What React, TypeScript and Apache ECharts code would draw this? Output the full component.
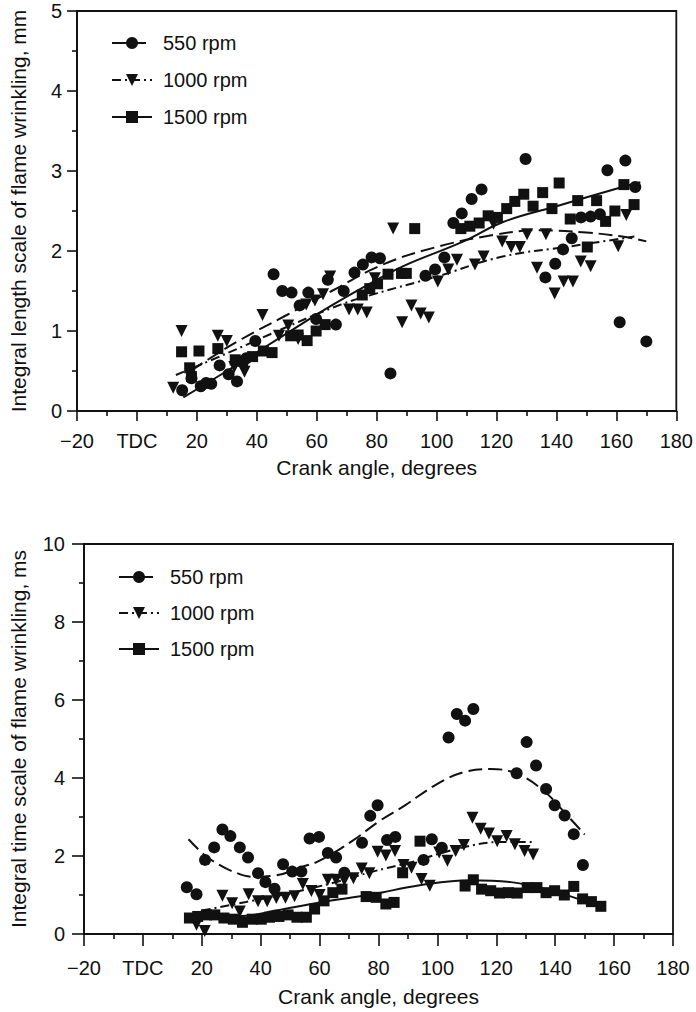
import React, { useEffect, useRef } from "react";
import * as echarts from "echarts";

// ---------- Tick labels ----------
const xTickMin = -20;
const xTickMax = 180;
const xTickStep = 20;

// ---------- Top chart: integral length scale (mm) ----------
const lenPts550: [number, number][] = [
  [15.1, 0.26], [18.2, 0.41], [21.3, 0.31], [23.1, 0.35], [24.8, 0.34], [27.6, 0.57], [30.6, 0.46],
  [33.4, 0.37], [36.5, 0.66], [39.5, 0.875], [45.6, 1.71], [48.5, 1.5], [51.6, 1.48], [54.3, 1.32],
  [57.2, 1.48], [59.8, 1.15], [63.7, 1.64], [66.4, 1.08], [69.0, 1.5], [72.6, 1.73], [75.4, 1.83],
  [78.3, 1.92], [81.1, 1.91], [84.6, 0.47], [96.3, 1.69], [99.5, 1.77], [102.6, 1.92], [105.6, 2.35],
  [108.4, 2.47], [111.7, 2.65], [115.0, 2.77], [129.7, 3.15], [136.3, 1.67], [139.6, 1.84],
  [142.2, 2.02], [145.1, 2.16], [148.2, 2.42], [151.4, 2.43], [154.5, 2.46], [157.0, 3.01],
  [161.1, 1.11], [163.0, 3.13], [166.3, 2.8], [170.0, 0.87],
];
const lenPts1000: [number, number][] = [
  [12.1, 0.29], [14.9, 1.0], [27.0, 0.94], [30.0, 0.875], [32.5, 0.55], [35.9, 0.49], [41.9, 1.2],
  [47.4, 0.94], [50.5, 1.07], [53.8, 0.9], [56.5, 1.33], [59.4, 1.38], [62.1, 1.46], [64.5, 1.68],
  [70.8, 1.27], [73.7, 1.27], [76.7, 1.23], [79.4, 1.66], [85.5, 2.28], [88.5, 1.11], [91.6, 1.32],
  [94.7, 1.22], [97.4, 1.17], [100.4, 1.62], [103.9, 1.77], [106.8, 1.89], [112.8, 1.83],
  [115.7, 1.93], [119.0, 2.34], [121.9, 2.12], [124.9, 2.05], [127.8, 2.05], [130.2, 2.21],
  [133.5, 1.79], [136.5, 2.21], [139.4, 1.47], [142.4, 1.62], [145.5, 1.62], [148.1, 1.87],
  [151.4, 1.81], [160.6, 2.06], [163.3, 2.45],
];
const lenPts1500: [number, number][] = [
  [14.9, 0.74], [17.6, 0.54], [18.2, 0.43], [20.7, 0.75], [27.0, 0.78], [32.8, 0.64], [35.3, 0.62],
  [38.6, 0.68], [42.2, 0.75], [45.1, 0.73], [51.3, 0.94], [53.8, 0.95], [56.8, 0.88], [59.8, 1.0],
  [62.8, 1.08], [75.2, 1.45], [77.7, 1.53], [80.3, 1.59], [83.8, 1.71], [88.3, 1.72], [89.9, 1.72],
  [92.7, 2.28], [108.1, 2.28], [111.1, 2.31], [114.2, 2.35], [117.2, 2.44], [120.3, 2.42],
  [123.4, 2.53], [126.1, 2.62], [129.1, 2.71], [132.2, 2.56], [135.4, 2.73], [138.5, 2.53],
  [140.9, 2.85], [144.6, 2.4], [147.1, 2.63], [150.3, 2.05], [153.4, 2.63], [156.4, 2.37],
  [159.5, 2.5], [162.5, 2.83], [165.9, 2.58],
];
const lenFit550: [number, number][] = [
  [18, 0.5], [24, 0.65], [35, 0.9], [50, 1.2], [65, 1.5], [82, 1.83], [100, 2.05], [119, 2.2],
  [134, 2.26], [150, 2.23], [162, 2.18], [170, 2.12],
];
const lenFit1000: [number, number][] = [
  [13, 0.45], [30, 0.72], [50, 1.05], [68, 1.33], [80, 1.47], [100, 1.68], [122, 1.93], [145, 2.06],
  [166, 2.18],
];
const lenFit1500: [number, number][] = [
  [15.5, 0.17], [30, 0.5], [50, 0.97], [65, 1.32], [82, 1.68], [90, 1.83], [109, 2.12], [122, 2.36],
  [140, 2.56], [162, 2.8], [168, 2.86],
];

// ---------- Bottom chart: integral time scale (ms) ----------
const timePts550: [number, number][] = [
  [14.9, 1.2], [18.2, 1.02], [21.1, 1.9], [24.2, 2.22], [27.0, 2.68], [29.7, 2.51], [32.9, 2.22],
  [35.7, 1.96], [39.1, 1.56], [41.6, 1.33], [44.7, 1.16], [47.6, 1.79], [50.7, 1.6], [53.8, 1.6],
  [56.6, 2.45], [59.8, 2.49], [62.8, 2.08], [65.6, 1.96], [68.4, 1.57], [74.4, 2.34], [77.2, 3.03],
  [79.7, 3.3], [82.9, 2.41], [85.7, 2.49], [95.3, 1.9], [98.1, 2.43], [101.5, 2.21], [103.8, 5.04],
  [106.6, 5.64], [109.4, 5.47], [112.2, 5.77], [126.9, 4.12], [130.3, 4.92], [133.5, 4.32],
  [136.9, 3.72], [139.8, 3.3], [143.2, 3.04], [146.3, 2.56], [149.4, 1.77],
];
const timePts1000: [number, number][] = [
  [18.2, 0.24], [21.0, 0.08], [27.0, 0.98], [30.3, 0.79], [32.9, 0.58], [35.9, 1.02], [39.1, 0.84],
  [42.2, 0.84], [45.3, 0.92], [48.4, 0.93], [51.5, 0.97], [54.3, 1.28], [57.2, 1.1], [60.0, 1.0],
  [62.8, 1.39], [65.6, 1.39], [68.4, 1.38], [71.5, 1.43], [74.3, 1.68], [76.9, 1.56], [79.7, 2.11],
  [82.5, 2.01], [85.6, 2.13], [88.5, 1.77], [91.2, 1.7], [94.6, 1.41], [97.4, 1.24], [100.6, 2.09],
  [103.4, 1.88], [106.2, 2.13], [109.0, 2.28], [111.9, 2.98], [114.7, 2.7], [117.5, 2.58],
  [120.3, 2.38], [123.5, 2.51], [126.3, 2.3], [129.6, 2.13], [132.5, 2.04],
];
const timePts1500: [number, number][] = [
  [15.8, 0.41], [18.6, 0.45], [21.6, 0.49], [24.4, 0.49], [27.5, 0.41], [30.7, 0.38], [33.8, 0.3],
  [37.1, 0.38], [40.2, 0.38], [43.0, 0.43], [46.2, 0.45], [49.3, 0.49], [52.3, 0.43], [55.5, 0.43],
  [58.3, 0.64], [61.5, 0.85], [64.5, 1.06], [67.6, 1.15], [75.8, 0.96], [79.2, 0.94], [82.5, 0.77],
  [85.3, 0.81], [88.2, 1.57], [94.1, 2.38], [109.4, 1.23], [112.2, 1.39], [115.0, 1.15],
  [118.1, 1.11], [121.1, 1.05], [124.1, 1.06], [127.1, 1.05], [130.5, 1.19], [133.8, 1.19],
  [136.9, 1.06], [139.8, 1.11], [143.1, 1.0], [146.3, 1.22], [149.3, 0.9], [152.3, 0.83],
  [155.5, 0.71],
];
const timeFit550: [number, number][] = [
  [15.5, 2.43], [21, 2.02], [26, 1.77], [30, 1.62], [37, 1.47], [45, 1.5], [54, 1.72], [60, 1.88],
  [71, 2.38], [80, 2.88], [89, 3.3], [100, 3.85], [109, 4.15], [118, 4.23], [127, 4.11], [136, 3.68],
  [143, 3.13], [150, 2.55],
];
const timeFit1000: [number, number][] = [
  [20, 0.6], [35, 0.82], [50, 1.05], [65, 1.32], [78, 1.6], [91, 1.84], [107, 2.19], [122, 2.36],
  [133, 2.36],
];
const timeFit1500: [number, number][] = [
  [15, 0.45], [25, 0.45], [34, 0.46], [45, 0.6], [60, 0.81], [78, 1.02], [94, 1.25], [111, 1.38],
  [125, 1.33], [138, 1.13], [147, 0.92], [155, 0.72],
];

const seriesNames = ["550 rpm", "1000 rpm", "1500 rpm"];

const INK = "#111";
const FONT = "Liberation Sans, Arial, Helvetica, sans-serif";
const FS = 20;
const NAME_FS = 21;
const TRI = "path://M0,0L10,0L5,9Z";
const symbols = ["circle", TRI, "rect"];
const symbolSizes = [12, 12, 11];
const lineTypes: any[] = [[14, 6], [9, 4, 2, 4], "solid"];

function xLabel(v: number) {
  if (v === 0) return "TDC";
  if (v < 0) return "\u2212" + Math.abs(v);
  return String(v);
}

function buildOption(cfg: {
  grid: any;
  yMax: number;
  yStep: number;
  yName: string;
  yNameGap: number;
  yLabelMargin: number;
  xLabelMargin: number;
  xNameGap: number;
  majorTick: number;
  legendLeft: number;
  legendTop: number;
  legendGap: number;
  pts: [number, number][][];
  fits: [number, number][][];
}) {
  const axisCommon = {
    axisLine: { show: true, onZero: false, lineStyle: { color: INK, width: 1.8 } },
    axisTick: { show: true, inside: false, length: cfg.majorTick, lineStyle: { color: INK, width: 1.6 } },
    minorTick: { show: true, splitNumber: 2, length: 5, lineStyle: { color: INK, width: 1.6 } },
    splitLine: { show: false },
    minorSplitLine: { show: false },
  };
  const series: any[] = [];
  cfg.fits.forEach((fit, i) => {
    series.push({
      name: seriesNames[i],
      type: "line",
      data: fit,
      smooth: 0.4,
      showSymbol: false,
      symbol: symbols[i],
      symbolSize: symbolSizes[i],
      lineStyle: { color: INK, width: 2, type: lineTypes[i] },
      itemStyle: { color: INK },
      z: 2,
    });
  });
  cfg.pts.forEach((p, i) => {
    series.push({
      name: seriesNames[i] + " data",
      type: "scatter",
      data: p,
      symbol: symbols[i],
      symbolSize: symbolSizes[i],
      itemStyle: { color: INK, opacity: 1 },
      z: 3,
    });
  });
  return {
    animation: false,
    backgroundColor: "#fff",
    textStyle: { fontFamily: FONT, color: INK },
    grid: { ...cfg.grid, show: true, borderColor: INK, borderWidth: 1.8, backgroundColor: "transparent" },
    legend: {
      data: seriesNames,
      orient: "vertical",
      left: cfg.legendLeft,
      top: cfg.legendTop,
      itemWidth: 40,
      itemHeight: 15,
      itemGap: cfg.legendGap,
      padding: 0,
      textStyle: { fontSize: FS, color: INK, fontFamily: FONT, padding: [0, 0, 0, 6] },
      selectedMode: false,
    },
    xAxis: {
      type: "value",
      min: xTickMin,
      max: xTickMax,
      interval: xTickStep,
      ...axisCommon,
      axisLabel: { formatter: xLabel, fontSize: FS, color: INK, margin: cfg.xLabelMargin, fontFamily: FONT, showMinLabel: true, showMaxLabel: true },
      name: "Crank angle, degrees",
      nameLocation: "middle",
      nameGap: cfg.xNameGap,
      nameTextStyle: { fontSize: NAME_FS, color: INK, fontFamily: FONT },
    },
    yAxis: {
      type: "value",
      min: 0,
      max: cfg.yMax,
      interval: cfg.yStep,
      ...axisCommon,
      axisLabel: { fontSize: FS, color: INK, margin: cfg.yLabelMargin, fontFamily: FONT },
      name: cfg.yName,
      nameLocation: "middle",
      nameGap: cfg.yNameGap,
      nameTextStyle: { fontSize: NAME_FS, color: INK, fontFamily: FONT },
    },
    series,
  };
}

function Chart({ option, top, height }: { option: any; top: number; height: number }) {
  const ref = useRef<HTMLDivElement>(null);
  useEffect(() => {
    if (!ref.current) return;
    const chart = echarts.init(ref.current, undefined, { renderer: "svg" });
    chart.setOption(option);
    return () => chart.dispose();
  }, [option]);
  return (
    <div
      ref={ref}
      style={{ position: "absolute", left: 0, top, width: 696, height }}
    />
  );
}

const topOption = buildOption({
  grid: { left: 73, top: 11, width: 604, height: 400 },
  yMax: 5,
  yStep: 1,
  yName: "Integral length scale of flame wrinkling, mm",
  yNameGap: 48,
  yLabelMargin: 15,
  xLabelMargin: 20,
  xNameGap: 46,
  majorTick: 10,
  legendLeft: 111,
  legendTop: 33,
  legendGap: 17,
  pts: [lenPts550, lenPts1000, lenPts1500],
  fits: [lenFit550, lenFit1000, lenFit1500],
});

const bottomOption = buildOption({
  grid: { left: 82, top: 44, width: 591, height: 392 },
  yMax: 10,
  yStep: 2,
  yName: "Integral time scale of flame wrinkling, ms",
  yNameGap: 55,
  yLabelMargin: 19,
  xLabelMargin: 24,
  xNameGap: 52,
  majorTick: 12,
  legendLeft: 118,
  legendTop: 67,
  legendGap: 16,
  pts: [timePts550, timePts1000, timePts1500],
  fits: [timeFit550, timeFit1000, timeFit1500],
});

export default function App() {
  return (
    <div style={{ position: "fixed", left: 0, top: 0, width: 696, height: 1012, background: "#fff" }}>
      <Chart option={topOption} top={0} height={500} />
      <Chart option={bottomOption} top={500} height={512} />
    </div>
  );
}
